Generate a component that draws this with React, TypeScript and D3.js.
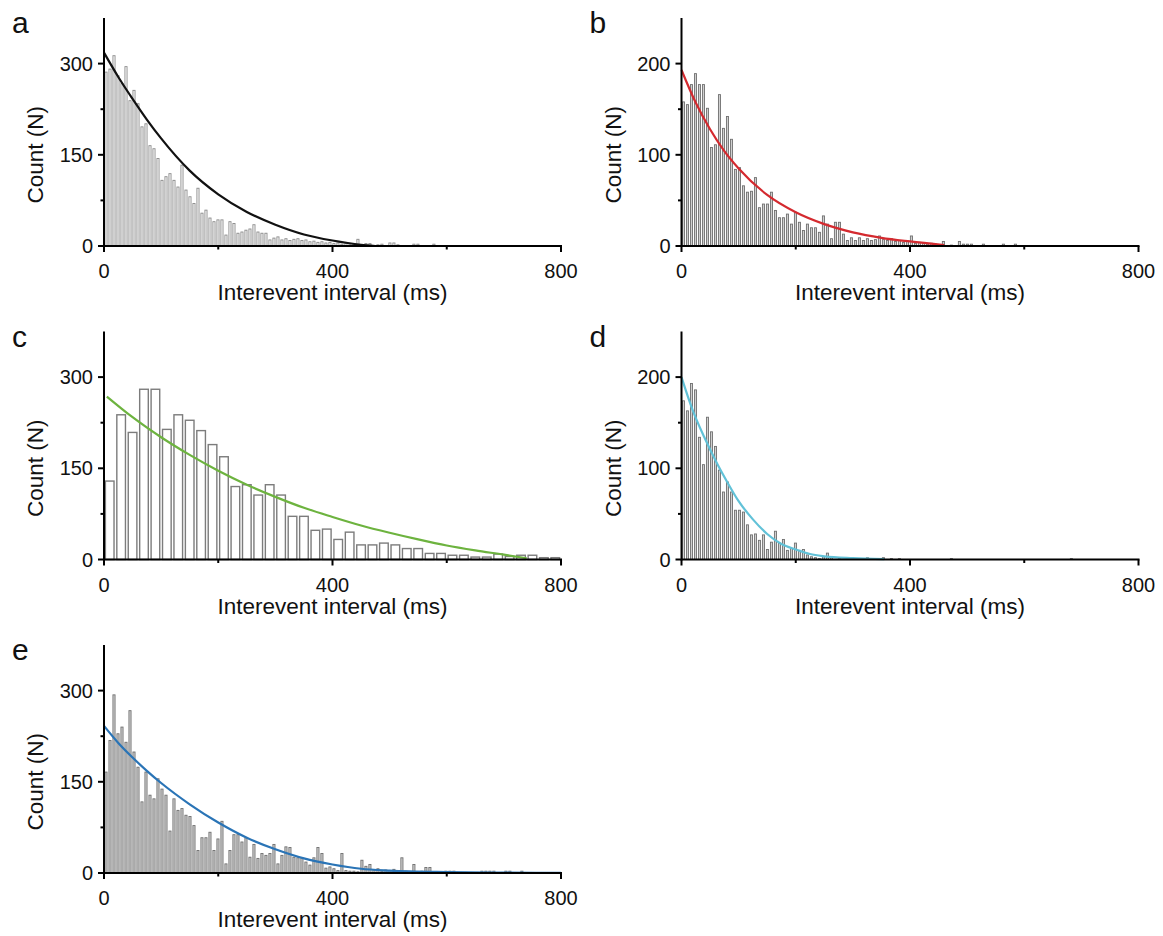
import React from "react";
import * as d3 from "d3";

// ---- data (counts per bin) ----
const countsA = [286, 291, 313, 280, 267, 295, 239, 256, 234, 196, 201, 165, 160, 144, 108, 114, 119, 108, 97, 133, 92, 81, 70, 95, 54, 59, 46, 40, 43, 43, 18, 40, 37, 21, 23, 26, 28, 35, 23, 21, 21, 10, 13, 15, 10, 12, 9, 11,
  12, 9, 10, 7, 8, 6, 7, 5, 6, 4, 5, 3, 4, 2, 3, 11, 2, 4, 4, 0, 2, 3, 0, 5, 5, 2, 0, 0, 0, 3, 3, 0, 0, 0, 3];
const countsB = [158, 155, 177, 189, 177, 177, 151, 108, 111, 166, 129, 142, 117, 84, 86, 66, 59, 60, 75, 42, 46, 46, 59, 39, 31, 31, 35, 24, 37, 26, 17, 24, 20, 20, 15, 33, 24, 8, 26, 26, 13, 6, 9, 6, 9, 6, 8, 6, 7,
  11, 7, 6, 8, 5, 6, 4, 5, 11, 3, 4, 3, 2, 3, 2, 0, 5, 0, 1, 0, 5, 2, 2, 2, 0, 0, 2, 0, 0, 0, 0, 2, 0, 0, 2];
const countsC = [129, 238, 209, 280, 280, 214, 238, 229, 212, 189, 169, 120, 123, 106, 123, 106, 71, 71, 48, 50, 33, 45, 24, 24, 27, 24, 18, 18, 10, 10, 7, 7, 4, 4, 9, 5, 7, 7, 3, 3];
const countsD = [174, 163, 193, 186, 134, 104, 156, 140, 124, 98, 74, 85, 74, 54, 54, 52, 38, 27, 28, 21, 27, 11, 19, 31, 18, 22, 10, 12, 18, 10, 11, 5, 3, 2, 1, 3, 7, 2,
  0, 1, 0, 1, 2, 0, 1, 0, 2, 0, 0, 1, 2, 0, 1, 0, 1, 0, 0, 0, 0, 0, 0, 0, 0, 0, 0, 0, 0, 1, 0, 0, 0, 0, 0, 0, 0, 0, 0, 0, 0, 0, 0, 0, 0, 0, 0, 0, 0, 0, 0, 0, 0, 0, 0, 0, 0, 0, 0, 1];
const countsE = [166, 218, 293, 229, 240, 215, 267, 199, 174, 117, 166, 128, 122, 155, 138, 128, 69, 122, 103, 106, 95, 93, 78, 37, 58, 58, 67, 37, 56, 85, 15, 37, 63, 63, 51, 58, 26, 47, 24, 32, 29, 32, 47, 15, 29, 43, 42, 26, 25, 25, 18, 13, 25, 42, 32,
  8, 10, 7, 4, 32, 4, 3, 3, 2, 21, 11, 14, 5, 7, 3, 5, 4, 6, 3, 25, 3, 2, 14, 2, 3, 9, 9, 2, 2, 1, 3, 3, 3, 1, 0, 1, 0, 0, 1, 3, 3, 3, 3, 0, 1, 3, 3, 0, 0, 3];

// fitted curves, points [ms, count]
const fitA = [[0, 318], [25, 278], [50, 242], [75, 208], [100, 177], [150, 124], [200, 85], [250, 56], [300, 35], [350, 19], [400, 9], [450, 2], [475, 0]];
const fitB = [[0, 193], [25, 157], [50, 128], [75, 104], [100, 85], [150, 56], [200, 37], [250, 24], [300, 15], [350, 9], [400, 5], [460, 1]];
const fitC = [[5, 268], [50, 234], [100, 201], [150, 172], [200, 146], [250, 123], [300, 103], [350, 85], [400, 70], [450, 56], [500, 44], [550, 33], [600, 23], [650, 15], [700, 8], [740, 2]];
const fitD = [[0, 200], [20, 163], [40, 134], [60, 108], [80, 85], [100, 64], [125, 44], [150, 28], [175, 17], [200, 11], [225, 6], [250, 3.5], [300, 1.5], [355, 0.5]];
const fitE = [[0, 242], [25, 214], [50, 190], [75, 168], [100, 148], [150, 113], [200, 83], [250, 58], [300, 39], [350, 24], [400, 14], [450, 7], [500, 4], [600, 1.5], [700, 0.5], [800, 0.2]];

const xTicksMajor = [0, 400, 800];
const xTicksMinor = [200, 600];
const yTicks300 = [0, 150, 300];
const yMinor300 = [75, 225];
const yTicks200 = [0, 100, 200];
const yMinor200 = [50, 150];
const letters = ["a", "b", "c", "d", "e"];
const xTitle = "Interevent interval (ms)";
const yTitle = "Count (N)";

const panels = [
  { letter: letters[0], counts: countsA, bin: 7, yMax: 375, major: yTicks300, minor: yMinor300, fit: fitA, color: "#111111", fill: "#ffffff", stroke: "#8a8a8a", col: 0, row: 0 },
  { letter: letters[1], counts: countsB, bin: 7, yMax: 250, major: yTicks200, minor: yMinor200, fit: fitB, color: "#d42a2f", fill: "#d0d0d0", stroke: "#6f6f6f", col: 1, row: 0 },
  { letter: letters[2], counts: countsC, bin: 20, yMax: 375, major: yTicks300, minor: yMinor300, fit: fitC, color: "#6db33f", fill: "#ffffff", stroke: "#7c7c7c", col: 0, row: 1 },
  { letter: letters[3], counts: countsD, bin: 7, yMax: 250, major: yTicks200, minor: yMinor200, fit: fitD, color: "#62c2d8", fill: "#d0d0d0", stroke: "#6f6f6f", col: 1, row: 1 },
  { letter: letters[4], counts: countsE, bin: 7, yMax: 375, major: yTicks300, minor: yMinor300, fit: fitE, color: "#2a74b6", fill: "#d4d4d4", stroke: "#6f6f6f", col: 0, row: 2 },
];

const COLX = [104, 681.5];
const ROWY = [246, 559.5, 873];
const W = 457;
const H = 228;
const FONT = "Arial, 'Liberation Sans', Helvetica, sans-serif";

function Panel({ p }: { p: any }) {
  const x0 = COLX[p.col];
  const yb = ROWY[p.row];
  const xs = d3.scaleLinear().domain([0, 800]).range([x0, x0 + W]);
  const ys = d3.scaleLinear().domain([0, p.yMax]).range([yb, yb - H]);
  const wide = p.bin >= 20;
  const gap = wide ? 1.8 : 0.9;
  const line = d3
    .line<number[]>()
    .x((d) => xs(d[0]))
    .y((d) => ys(d[1]))
    .curve(d3.curveMonotoneX);
  const midY = ys(p.major[2] / 2);
  return (
    <g>
      {p.counts.map((c: number, i: number) => {
        if (c <= 0) return null;
        const a = xs(i * p.bin);
        const b = Math.min(xs((i + 1) * p.bin), xs(800));
        return (
          <rect
            key={i}
            x={a + gap / 2 + 0.5}
            y={ys(c)}
            width={Math.max(0.5, b - a - gap - 1)}
            height={yb - ys(c)}
            fill={p.fill}
            stroke={p.stroke}
            strokeWidth={wide ? 1.4 : 0.9}
          />
        );
      })}
      <path d={line(p.fit) || ""} fill="none" stroke={p.color} strokeWidth={2.2} />
      {/* axes */}
      <line x1={x0} x2={x0 + W + 1} y1={yb} y2={yb} stroke="#000" strokeWidth={2} />
      <line x1={x0} x2={x0} y1={yb + 1} y2={yb - H} stroke="#000" strokeWidth={2} />
      {xTicksMajor.map((t) => (
        <g key={"xm" + t}>
          <line x1={xs(t)} x2={xs(t)} y1={yb} y2={yb + 6} stroke="#000" strokeWidth={2} />
          <text x={xs(t)} y={yb + 32} textAnchor="middle" fontSize={20} fontFamily={FONT} fill="#111">
            {t}
          </text>
        </g>
      ))}
      {xTicksMinor.map((t) => (
        <line key={"xn" + t} x1={xs(t)} x2={xs(t)} y1={yb} y2={yb + 3.5} stroke="#000" strokeWidth={2} />
      ))}
      {p.major.map((t: number) => (
        <g key={"ym" + t}>
          <line x1={x0 - 6} x2={x0} y1={ys(t)} y2={ys(t)} stroke="#000" strokeWidth={2} />
          <text x={x0 - 11} y={ys(t) + 7} textAnchor="end" fontSize={20} fontFamily={FONT} fill="#111">
            {t}
          </text>
        </g>
      ))}
      {p.minor.map((t: number) => (
        <line key={"yn" + t} x1={x0 - 3.5} x2={x0} y1={ys(t)} y2={ys(t)} stroke="#000" strokeWidth={2} />
      ))}
      <text x={x0 + W / 2} y={yb + 54} textAnchor="middle" fontSize={22.5} fontFamily={FONT} fill="#111">
        {xTitle}
      </text>
      <text
        transform={`translate(${x0 - 61},${midY}) rotate(-90)`}
        textAnchor="middle"
        fontSize={22.5}
        fontFamily={FONT}
        fill="#111"
      >
        {yTitle}
      </text>
      <text x={x0 - 92} y={yb - 213} fontSize={30} fontFamily={FONT} fill="#111">
        {p.letter}
      </text>
    </g>
  );
}

export default function App() {
  return (
    <svg width={1163} height={936} style={{ position: "absolute", left: 0, top: 0, background: "#fff" }}>
      <rect x={0} y={0} width={1163} height={936} fill="#fff" />
      {panels.map((p) => (
        <Panel key={p.letter} p={p} />
      ))}
    </svg>
  );
}
